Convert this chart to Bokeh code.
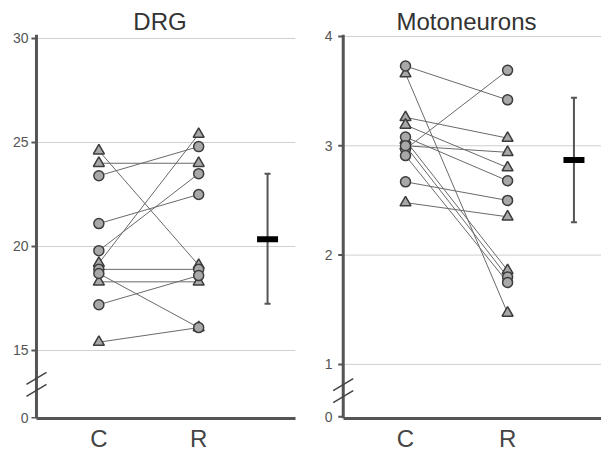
from bokeh.plotting import figure
from bokeh.layouts import row
from bokeh.models import FixedTicker, Range1d, ColumnDataSource
from bokeh.embed import file_html
from bokeh.resources import INLINE

# ---------------- data ----------------
groups = ["C", "R"]

drg_title = "DRG"
drg_ticks = [15, 20, 25, 30]
drg_tri_c = [24.6, 24.0, 19.2, 18.3, 15.4]
drg_tri_r = [19.1, 24.0, 25.4, 18.3, 16.1]
drg_cir_c = [23.4, 21.1, 19.8, 18.9, 18.7, 17.2]
drg_cir_r = [24.8, 22.5, 23.5, 18.9, 16.1, 18.6]
drg_mean, drg_lo, drg_hi = 20.35, 17.25, 23.5

mn_title = "Motoneurons"
mn_ticks = [1, 2, 3, 4]
mn_tri_c = [3.66, 3.26, 3.19, 3.0, 2.48, 3.05]
mn_tri_r = [1.47, 3.07, 2.80, 2.94, 2.35, 1.86]
mn_cir_c = [3.73, 2.97, 2.67, 3.08, 3.00, 2.91]
mn_cir_r = [3.42, 3.69, 2.50, 2.68, 1.80, 1.75]
mn_mean, mn_lo, mn_hi = 2.87, 2.30, 3.44

FONT = "Liberation Sans"
AX = "#555555"
H = 455
TOP, BOT = 34, 37


def panel(title, ticks, tri_c, tri_r, cir_c, cir_r, mean, lo, hi,
          y0, y1, zero_pos, x0, x1, ax, xsum, width, mleft, mright, standoff):
    p = figure(width=width, height=H, output_backend="svg", toolbar_location=None,
               x_range=Range1d(x0, x1), y_range=Range1d(y0, y1),
               min_border_left=mleft, min_border_right=mright,
               min_border_top=TOP, min_border_bottom=BOT)
    p.outline_line_color = None
    p.background_fill_color = "white"
    p.border_fill_color = "white"

    fw = width - mleft - mright
    fh = H - TOP - BOT
    ppx = fw / (x1 - x0)
    ppy = fh / (y1 - y0)

    p.title.text = title
    p.title.align = "center"
    p.title.text_font = FONT
    p.title.text_font_size = "24px"
    p.title.text_font_style = "normal"
    p.title.text_color = "#333333"
    p.title.standoff = 0
    p.title.offset = (ax - x0) * ppx / 2.0

    # y axis: labels from Bokeh's axis, line and ticks drawn at the axis position
    yt = [zero_pos] + ticks
    p.yaxis.ticker = FixedTicker(ticks=yt)
    p.yaxis.major_label_overrides = {zero_pos: "0"}
    p.yaxis.axis_line_color = None
    p.yaxis.major_tick_line_color = None
    p.yaxis.major_tick_out = 0
    p.yaxis.major_tick_in = 0
    p.yaxis.minor_tick_line_color = None
    p.yaxis.major_label_text_font = FONT
    p.yaxis.major_label_text_font_size = "14px"
    p.yaxis.major_label_text_color = "#555555"
    p.yaxis.major_label_standoff = standoff

    # x axis
    p.xaxis.ticker = FixedTicker(ticks=[1, 2])
    p.xaxis.major_label_overrides = {1: groups[0], 2: groups[1]}
    p.xaxis.bounds = (ax, x1)
    p.xaxis.axis_line_width = 3
    p.xaxis.axis_line_color = AX
    p.xaxis.major_tick_line_color = None
    p.xaxis.major_tick_out = 0
    p.xaxis.major_tick_in = 0
    p.xaxis.minor_tick_line_color = None
    p.xaxis.major_label_text_font = FONT
    p.xaxis.major_label_text_font_size = "24px"
    p.xaxis.major_label_text_color = "#444444"
    p.xaxis.major_label_standoff = 6

    p.xgrid.grid_line_color = None
    p.ygrid.grid_line_color = None

    # horizontal grid lines from the axis to the right edge
    p.segment(x0=[ax] * len(ticks), y0=ticks, x1=[x1] * len(ticks), y1=ticks,
              line_color="#cfcfcf", line_width=1)

    # connecting lines
    seg = ColumnDataSource(dict(
        x0=[1] * (len(tri_c) + len(cir_c)),
        y0=tri_c + cir_c,
        x1=[2] * (len(tri_c) + len(cir_c)),
        y1=tri_r + cir_r))
    p.segment("x0", "y0", "x1", "y1", source=seg, line_color="#6a6a6a", line_width=1)

    tri = ColumnDataSource(dict(x=[1] * len(tri_c) + [2] * len(tri_r), y=tri_c + tri_r))
    cir = ColumnDataSource(dict(x=[1] * len(cir_c) + [2] * len(cir_r), y=cir_c + cir_r))
    p.scatter("x", "y", source=tri, marker="triangle", size=11,
              fill_color="#a8a8a8", line_color="#3c3c3c", line_width=1.5)
    p.scatter("x", "y", source=cir, marker="circle", size=10,
              fill_color="#a8a8a8", line_color="#3c3c3c", line_width=1.5)

    # mean +/- error bar
    p.segment(x0=[xsum], y0=[lo], x1=[xsum], y1=[hi], line_color="#555555", line_width=2)
    p.scatter(x=[xsum, xsum], y=[lo, hi], marker="dash", size=6,
              line_color="#555555", line_width=2)
    p.rect(x=[xsum], y=[mean], width=21, height=6, width_units="screen",
           height_units="screen", fill_color="black", line_color=None)

    # y axis line and tick marks
    p.segment(x0=[ax], y0=[y0], x1=[ax], y1=[y1], line_color=AX, line_width=3)
    p.segment(x0=[ax - 5 / ppx] * len(yt), y0=yt, x1=[ax] * len(yt), y1=yt,
              line_color=AX, line_width=2)

    # axis break marks
    ybreak = (zero_pos + ticks[0]) / 2.0
    bx0, bx1, by0, by1 = [], [], [], []
    for off in (6, -6):
        yc = ybreak + off / ppy
        bx0.append(ax - 10 / ppx)
        bx1.append(ax + 10 / ppx)
        by0.append(yc - 6 / ppy)
        by1.append(yc + 6 / ppy)
    p.segment(x0=bx0, y0=by0, x1=bx1, y1=by1, line_color="#444444", line_width=1.5)
    return p


p1 = panel(drg_title, drg_ticks, drg_tri_c, drg_tri_r, drg_cir_c, drg_cir_r,
           drg_mean, drg_lo, drg_hi,
           y0=11.73, y1=30.19, zero_pos=11.75, x0=0.255, x1=2.97, ax=0.375, xsum=2.69,
           width=300, mleft=24, mright=5, standoff=-4)
p2 = panel(mn_title, mn_ticks, mn_tri_c, mn_tri_r, mn_cir_c, mn_cir_r,
           mn_mean, mn_lo, mn_hi,
           y0=0.505, y1=4.018, zero_pos=0.52, x0=0.275, x1=2.92, ax=0.39, xsum=2.65,
           width=301, mleft=31, mright=0, standoff=-1)

layout = row(p1, p2, spacing=0)
open("out.html", "w").write(file_html(layout, INLINE))
